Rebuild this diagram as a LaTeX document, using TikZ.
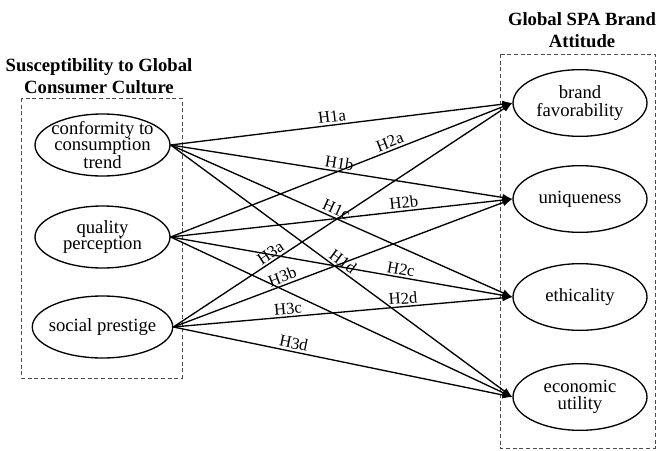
\documentclass[tikz,border=0pt]{standalone}
\usepackage{fontspec}
\setmainfont{Liberation Serif}
\usetikzlibrary{arrows.meta,positioning,shapes.geometric}

\tikzset{every picture/.style={line width=0.75pt}}
\tikzset{
  gbox/.style={draw=black!70, densely dashed, line width=0.6pt},
  gtitle/.style={align=center, inner sep=0pt, font=\bfseries\fontsize{14}{17}\selectfont},
  factor/.style={draw, ellipse, line width=1pt, minimum width=101.25pt, minimum height=46.5pt, inner sep=-3pt, align=center, font=\fontsize{14}{12.5}\selectfont},
  attitude/.style={draw, ellipse, line width=1pt, minimum width=100.5pt, minimum height=50pt, inner sep=-3pt, align=center, font=\fontsize{14}{13}\selectfont},
  hyp/.style={line width=1pt, -{Latex[length=7.5pt,width=5.5pt]}},
  hlab/.style={sloped, above, inner sep=1.5pt, font=\fontsize{12.5}{14}\selectfont}
}

\begin{document}
\begin{tikzpicture}[x=0.75pt,y=-0.75pt]
\useasboundingbox (0,0) rectangle (657,450);

%Group boxes
\draw [gbox] (21,98) rectangle (182,378);
\draw [gbox] (500,54) rectangle (655,448);

% Text Node
\node [gtitle] (sgcc) at (99,76) {Susceptibility to Global\\Consumer Culture};
% Text Node
\node [gtitle] (gsba) at (582,30) {Global SPA Brand\\Attitude};

%Left factors
\node [factor] (conf) at (102.5,145) {conformity to\\consumption\\trend};
\node [factor] (qual) at (102.5,237) {quality\\perception};
\node [factor] (soc) at (102.5,327) {social prestige};

%Right factors
\node [attitude] (fav) at (580,103) {brand\\favorability};
\node [attitude] (uniq) at (580,199) {uniqueness};
\node [attitude] (eth) at (580,297) {ethicality};
\node [attitude] (econ) at (580,397) {economic\\utility};

%Hypotheses H1
\draw [hyp] (conf.east) -- node [hlab, pos=0.475] {H1a} (fav.west);
\draw [hyp] (conf.east) -- node [hlab, pos=0.49] {H1b} (uniq.west);
\draw [hyp] (conf.east) -- node [hlab, pos=0.475] {H1c} (eth.west);
\draw [hyp] (conf.east) -- node [hlab, pos=0.49] {H1d} (econ.west);
%Hypotheses H2
\draw [hyp] (qual.east) -- node [hlab, pos=0.65] {H2a} (fav.west);
\draw [hyp] (qual.east) -- node [hlab, pos=0.685] {H2b} (uniq.west);
\draw [hyp] (qual.east) -- node [hlab, pos=0.67] {H2c} (eth.west);
\draw [hyp] (qual.east) -- node [pos=0.69, rotate=4, yshift=37pt, inner sep=1.5pt, font=\fontsize{12.5}{14}\selectfont] {H2d} (econ.west);
%Hypotheses H3
\draw [hyp] (soc.east) -- node [hlab, pos=0.30] {H3a} (fav.west);
\draw [hyp] (soc.east) -- node [hlab, pos=0.33] {H3b} (uniq.west);
\draw [hyp] (soc.east) -- node [hlab, pos=0.34] {H3c} (eth.west);
\draw [hyp] (soc.east) -- node [hlab, pos=0.35] {H3d} (econ.west);
\end{tikzpicture}
\end{document}
